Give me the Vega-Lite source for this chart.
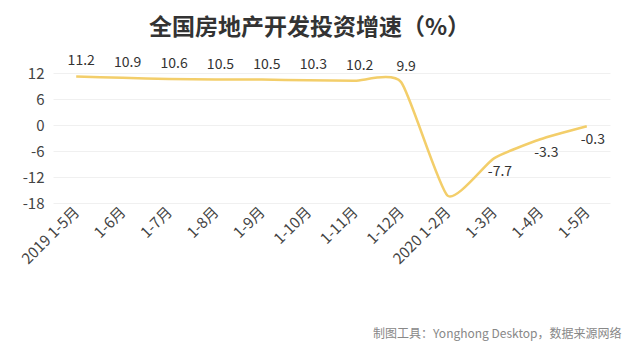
{
  "$schema": "https://vega.github.io/schema/vega-lite/v6.json",
  "width": 557,
  "height": 130,
  "autosize": {"type": "none"},
  "padding": {"left": 53, "top": 73, "right": 30, "bottom": 153},
  "background": "white",
  "config": {
    "view": {"stroke": null},
    "font": "Noto Sans CJK SC"
  },
  "title": {
    "text": "全国房地产开发投资增速（%）",
    "fontSize": 23,
    "fontWeight": "bold",
    "color": "#333333",
    "anchor": "middle",
    "frame": "group",
    "dx": -22,
    "offset": 14
  },
  "data": {
    "values": [
      {"month": "2019 1-5月", "value": 11.2},
      {"month": "1-6月", "value": 10.9},
      {"month": "1-7月", "value": 10.6},
      {"month": "1-8月", "value": 10.5},
      {"month": "1-9月", "value": 10.5},
      {"month": "1-10月", "value": 10.3},
      {"month": "1-11月", "value": 10.2},
      {"month": "1-12月", "value": 9.9},
      {"month": "2020 1-2月", "value": -16.3},
      {"month": "1-3月", "value": -7.7},
      {"month": "1-4月", "value": -3.3},
      {"month": "1-5月", "value": -0.3}
    ]
  },
  "encoding": {
    "x": {
      "field": "month",
      "type": "ordinal",
      "sort": null,
      "scale": {"type": "point", "padding": 0.5},
      "axis": {
        "title": "制图工具：Yonghong Desktop，数据来源网络",
        "titleFontSize": 12,
        "titleFontWeight": "normal",
        "titleColor": "#888888",
        "titleAnchor": "end",
        "titleAlign": "right",
        "titleX": 568,
        "titleY": 130,
        "titleBaseline": "middle",
        "labelAngle": -45,
        "labelAlign": "right",
        "labelBaseline": "middle",
        "labelFontSize": 15,
        "labelColor": "#444444",
        "labelPadding": 6,
        "ticks": false,
        "domain": false,
        "grid": false
      }
    },
    "y": {
      "field": "value",
      "type": "quantitative",
      "scale": {"domain": [-18, 12], "nice": false, "zero": false},
      "axis": {
        "title": null,
        "values": [12, 6, 0, -6, -12, -18],
        "labelExpr": "replace(datum.label, '−', '-')",
        "labelFontSize": 15,
        "labelColor": "#444444",
        "labelPadding": 9,
        "ticks": false,
        "domain": false,
        "grid": true,
        "gridColor": "#f0f0f0",
        "gridWidth": 1
      }
    }
  },
  "layer": [
    {
      "mark": {"type": "line", "interpolate": "cardinal", "tension": 0.45, "color": "#F3CE6A", "strokeWidth": 2.5}
    },
    {
      "transform": [{"filter": "datum.value > 0"}],
      "mark": {"type": "text", "fontSize": 14, "color": "#333333", "dx": 5, "dy": -15, "baseline": "middle", "align": "center"},
      "encoding": {"text": {"field": "value", "type": "nominal"}}
    },
    {
      "transform": [{"filter": "datum.value < 0 && datum.month != '2020 1-2月'"}],
      "mark": {"type": "text", "fontSize": 14, "color": "#333333", "dx": 6, "dy": 14, "baseline": "middle", "align": "center"},
      "encoding": {"text": {"field": "value", "type": "nominal"}}
    }
  ]
}
